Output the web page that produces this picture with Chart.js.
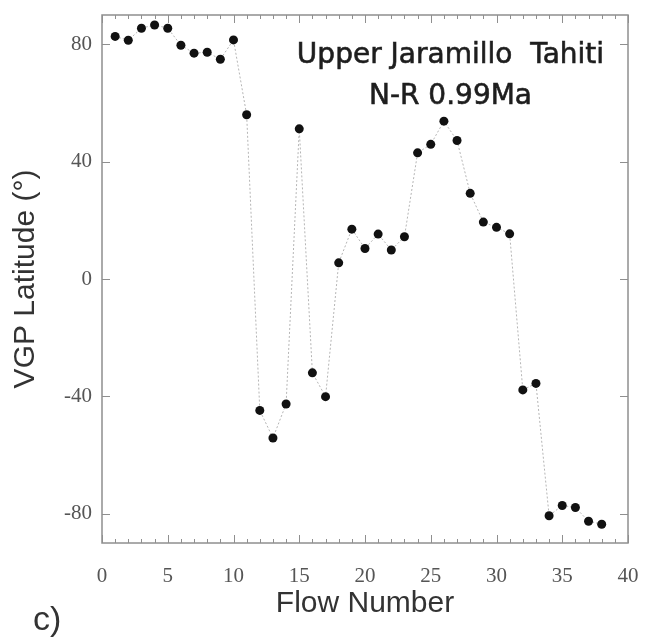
<!DOCTYPE html>
<html>
<head>
<meta charset="utf-8">
<script src="https://cdn.jsdelivr.net/npm/chart.js@4.4.0/dist/chart.umd.min.js"></script>
<style>
  html, body { margin: 0; padding: 0; background: #fff; }
  #wrap { width: 647px; height: 642px; }
</style>
</head>
<body>
<div id="wrap"><canvas id="chart" width="647" height="642"></canvas></div>
<script>
// flow numbers 1..38 and VGP latitude for each
var flows = [1,2,3,4,5,6,7,8,9,10,11,12,13,14,15,16,17,18,19,20,21,22,23,24,25,26,27,28,29,30,31,32,33,34,35,36,37,38];
var vgpLat = [82.7,81.4,85.5,86.6,85.5,79.7,77,77.3,74.9,81.5,56,-44.8,-54.2,-42.6,51.2,-32,-40.1,5.5,17,10.4,15.3,9.9,14.4,43,45.9,53.8,47.2,29.2,19.4,17.6,15.4,-37.8,-35.6,-80.7,-77.2,-77.9,-82.6,-83.6];
var xTicks = [0,5,10,15,20,25,30,35,40];
var yTicks = [-80,-40,0,40,80];
var noteLines = ["Upper Jaramillo  Tahiti", "N-R 0.99Ma"];

var points = [];
for (var i = 0; i < flows.length; i++) {
    points.push({x: flows[i], y: vgpLat[i]});
}

// frame, inward tick marks, annotation and panel letter
var extras = {
    id: 'extras',
    afterDatasetsDraw: function(chart) {
        var ctx = chart.ctx;
        var a = chart.chartArea;
        var xs = chart.scales.x, ys = chart.scales.y;
        ctx.save();
        ctx.strokeStyle = '#8f8f8f';
        ctx.lineWidth = 1.5;
        ctx.strokeRect(a.left, a.top, a.right - a.left, a.bottom - a.top);
        ctx.lineWidth = 1;
        ctx.beginPath();
        for (var v = 0; v <= 40; v++) {
            var px = Math.round(xs.getPixelForValue(v)) + 0.5;
            var len = (v % 5 === 0) ? 8 : 4;
            ctx.moveTo(px, a.bottom); ctx.lineTo(px, a.bottom - len);
            ctx.moveTo(px, a.top); ctx.lineTo(px, a.top + len);
        }
        for (var k = 0; k < yTicks.length; k++) {
            var py = Math.round(ys.getPixelForValue(yTicks[k])) + 0.5;
            ctx.moveTo(a.left, py); ctx.lineTo(a.left + 8, py);
            ctx.moveTo(a.right, py); ctx.lineTo(a.right - 8, py);
        }
        ctx.stroke();

        ctx.fillStyle = '#1e1e1e';
        ctx.strokeStyle = '#1e1e1e';
        ctx.lineWidth = 0.6;
        ctx.font = '28px "DejaVu Sans"';
        ctx.textAlign = 'center';
        ctx.textBaseline = 'middle';
        var cx = xs.getPixelForValue(26.5);
        ctx.fillText(noteLines[0], cx, ys.getPixelForValue(76.2));
        ctx.strokeText(noteLines[0], cx, ys.getPixelForValue(76.2));
        ctx.fillText(noteLines[1], cx, ys.getPixelForValue(62.2));
        ctx.strokeText(noteLines[1], cx, ys.getPixelForValue(62.2));

        ctx.fillStyle = '#333';
        ctx.font = '34px "Liberation Sans"';
        ctx.textAlign = 'left';
        ctx.fillText('c)', 33, 621);
        ctx.restore();
    }
};

const ctx = document.getElementById('chart').getContext('2d');
const chart = new Chart(ctx, {
    type: 'line',
    data: {
        datasets: [
            {
                data: points,
                borderColor: '#b5b5b5',
                borderWidth: 1,
                borderDash: [2, 2],
                pointRadius: 4.5,
                pointBackgroundColor: '#111',
                pointBorderWidth: 0,
                tension: 0
            }
        ]
    },
    options: {
        responsive: false,
        animation: false,
        layout: { padding: { top: 15, right: 19, left: 0, bottom: 0 } },
        plugins: { legend: { display: false }, tooltip: { enabled: false } },
        scales: {
            x: {
                type: 'linear',
                min: 0,
                max: 40,
                afterBuildTicks: function(s) { s.ticks = xTicks.map(function(v) { return {value: v}; }); },
                afterFit: function(s) { s.height = 99; s.paddingLeft = 0; s.paddingRight = 0; },
                grid: { display: false, drawTicks: false },
                border: { display: false },
                ticks: { color: '#555', padding: 21, maxRotation: 0, font: { family: '"Liberation Serif"', size: 21 } },
                title: { display: true, text: 'Flow Number', color: '#333', padding: { top: 0, bottom: 20 }, font: { family: '"Liberation Sans"', size: 30 } }
            },
            y: {
                min: -90,
                max: 90,
                afterBuildTicks: function(s) { s.ticks = yTicks.map(function(v) { return {value: v}; }); },
                afterFit: function(s) { s.width = 102; s.paddingTop = 0; s.paddingBottom = 0; },
                grid: { display: false, drawTicks: false },
                border: { display: false },
                ticks: { color: '#555', padding: 10, font: { family: '"Liberation Serif"', size: 21 } },
                title: { display: true, text: 'VGP Latitude (°)', color: '#333', padding: { top: 8, bottom: 0 }, font: { family: '"Liberation Sans"', size: 30 } }
            }
        }
    },
    plugins: [extras]
});
</script>
</body>
</html>
